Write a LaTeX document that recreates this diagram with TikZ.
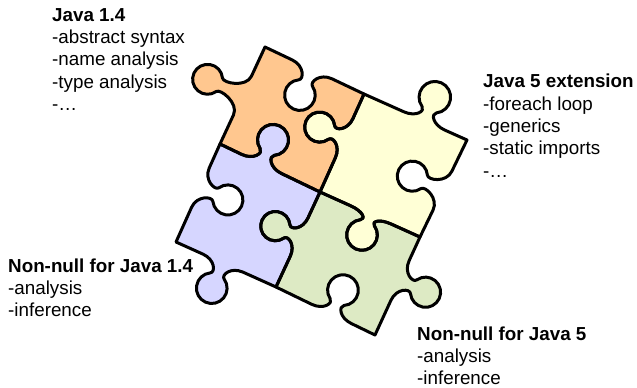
\documentclass[tikz,border=0pt]{standalone}
\usepackage{fontspec}
\setmainfont{Liberation Sans}

% A point given in the frame of an edge P->Q: #6 along the edge, #7 across it
% (#5 = +1 or -1 picks the side the knob points to).
\newcommand\EP[7]{({#1+(#6)*((#3)-(#1))-(#5)*(#7)*((#4)-(#2))},{#2+(#6)*((#4)-(#2))+(#5)*(#7)*((#3)-(#1))})}

% One jigsaw edge from P=(#1,#2) to Q=(#3,#4); knob side #5, knob centre at
% fraction #6 of the edge, knob centre distance #7 from the edge.
\newcommand\addedge[7]{%
 -- \EP{#1}{#2}{#3}{#4}{#5}{#6-0.2}{0}
 .. controls \EP{#1}{#2}{#3}{#4}{#5}{#6-0.08}{0}
 and \EP{#1}{#2}{#3}{#4}{#5}{#6-0.0267}{#7-0.1462}
 .. \EP{#1}{#2}{#3}{#4}{#5}{#6-0.07}{#7-0.1212}
 .. controls \EP{#1}{#2}{#3}{#4}{#5}{#6-0.1249}{#7-0.0895}
 and \EP{#1}{#2}{#3}{#4}{#5}{#6-0.1516}{#7-0.025}
 .. \EP{#1}{#2}{#3}{#4}{#5}{#6-0.1352}{#7+0.0362}
 .. controls \EP{#1}{#2}{#3}{#4}{#5}{#6-0.1188}{#7+0.0974}
 and \EP{#1}{#2}{#3}{#4}{#5}{#6-0.0634}{#7+0.14}
 .. \EP{#1}{#2}{#3}{#4}{#5}{#6}{#7+0.14}
 .. controls \EP{#1}{#2}{#3}{#4}{#5}{#6+0.0634}{#7+0.14}
 and \EP{#1}{#2}{#3}{#4}{#5}{#6+0.1188}{#7+0.0974}
 .. \EP{#1}{#2}{#3}{#4}{#5}{#6+0.1352}{#7+0.0362}
 .. controls \EP{#1}{#2}{#3}{#4}{#5}{#6+0.1516}{#7-0.025}
 and \EP{#1}{#2}{#3}{#4}{#5}{#6+0.1249}{#7-0.0895}
 .. \EP{#1}{#2}{#3}{#4}{#5}{#6+0.07}{#7-0.1212}
 .. controls \EP{#1}{#2}{#3}{#4}{#5}{#6+0.0267}{#7-0.1462}
 and \EP{#1}{#2}{#3}{#4}{#5}{#6+0.08}{0}
 .. \EP{#1}{#2}{#3}{#4}{#5}{#6+0.2}{0}
 -- (#3,#4)}

% corners of the 2x2 grid of pieces
\def\cAx{265}\def\cAy{47}
\def\cBx{364}\def\cBy{94}
\def\cCx{467}\def\cCy{140}
\def\cDx{220}\def\cDy{144}
\def\cEx{320}\def\cEy{192}
\def\cFx{420}\def\cFy{237}
\def\cGx{176}\def\cGy{242}
\def\cHx{276}\def\cHy{287}
\def\cIx{375}\def\cIy{335}

\edef\orangepath{(\cAx,\cAy)
 \addedge{\cAx}{\cAy}{\cBx}{\cBy}{1}{0.476}{0.26}
 \addedge{\cBx}{\cBy}{\cEx}{\cEy}{1}{0.45}{0.25}
 \addedge{\cEx}{\cEy}{\cDx}{\cDy}{1}{0.585}{0.24}
 \addedge{\cDx}{\cDy}{\cAx}{\cAy}{-1}{0.5}{0.36} -- cycle}
\edef\yellowpath{(\cBx,\cBy)
 \addedge{\cBx}{\cBy}{\cCx}{\cCy}{-1}{0.585}{0.23}
 \addedge{\cCx}{\cCy}{\cFx}{\cFy}{1}{0.523}{0.31}
 \addedge{\cFx}{\cFy}{\cEx}{\cEy}{-1}{0.49}{0.2}
 \addedge{\cEx}{\cEy}{\cBx}{\cBy}{-1}{0.55}{0.25} -- cycle}
\edef\greenpath{(\cEx,\cEy)
 \addedge{\cEx}{\cEy}{\cFx}{\cFy}{1}{0.51}{0.2}
 \addedge{\cFx}{\cFy}{\cIx}{\cIy}{-1}{0.444}{0.26}
 \addedge{\cIx}{\cIy}{\cHx}{\cHy}{1}{0.44}{0.24}
 \addedge{\cHx}{\cHy}{\cEx}{\cEy}{-1}{0.525}{0.25} -- cycle}
\edef\bluepath{(\cDx,\cDy)
 \addedge{\cDx}{\cDy}{\cEx}{\cEy}{-1}{0.415}{0.24}
 \addedge{\cEx}{\cEy}{\cHx}{\cHy}{1}{0.475}{0.25}
 \addedge{\cHx}{\cHy}{\cGx}{\cGy}{-1}{0.53}{0.25}
 \addedge{\cGx}{\cGy}{\cDx}{\cDy}{1}{0.555}{0.28} -- cycle}

\definecolor{pcorange}{HTML}{FFC78F}
\definecolor{pcyellow}{HTML}{FFFFD6}
\definecolor{pcblue}{HTML}{D6D6FF}
\definecolor{pcgreen}{HTML}{DDEAC4}

\tikzset{
  outline/.style={draw=black, line width=3pt, line join=round},
  txtblock/.style={anchor=north west, inner sep=0pt, align=left,
    font=\fontsize{18.8}{22.3}\selectfont}
}

\begin{document}
\begin{tikzpicture}[x=1pt, y=-1pt]
\useasboundingbox (0,0) rectangle (637,388);

% pieces
\fill[pcorange] \orangepath;
\fill[pcyellow] \yellowpath;
\fill[pcblue] \bluepath;
\fill[pcgreen] \greenpath;
\path[outline] \orangepath;
\path[outline] \yellowpath;
\path[outline] \bluepath;
\path[outline] \greenpath;

% captions
\node[txtblock] (java14) at (52,8.2)
  {\textbf{Java 1.4}\\-abstract syntax\\-name analysis\\-type analysis\\-…};
\node[txtblock] (java5) at (483,74)
  {\textbf{Java 5 extension}\\-foreach loop\\-generics\\-static imports\\-…};
\node[txtblock] (nn14) at (8,258.2)
  {\textbf{Non-null for Java 1.4}\\-analysis\\-inference};
\node[txtblock] (nn5) at (417,326.5)
  {\textbf{Non-null for Java 5}\\-analysis\\-inference};
\end{tikzpicture}
\end{document}
